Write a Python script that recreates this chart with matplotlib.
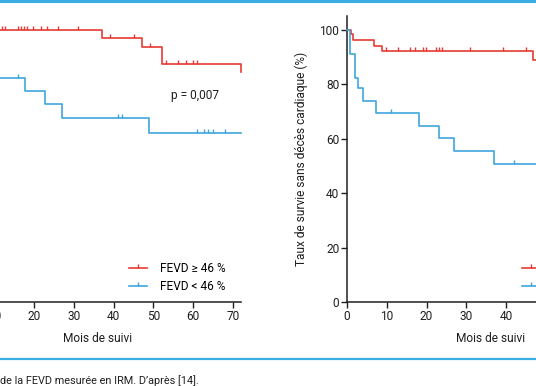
import numpy as np
import matplotlib
matplotlib.use("Agg")
import matplotlib.pyplot as plt
from matplotlib.lines import Line2D
from matplotlib.markers import TICKUP

plt.rcParams['font.family'] = ['Roboto', 'DejaVu Sans']

# ---------------- data ----------------
# Left panel (Kaplan-Meier, %)
left_hi_t = [0, 37.1, 47.1, 52.2, 71.9]
left_hi_s = [100, 97.1, 93.8, 87.5, 84.5]
left_hi_cens = [11.9, 12.7, 16.1, 16.7, 17.5, 18.2, 19.8, 21.7, 23.2, 26.1, 31.0,
                39.1, 45.1, 49.1, 53.2, 56.2, 58.2, 60.0, 61.0]
left_lo_t = [0, 8, 17.7, 22.8, 27.1, 48.9, 72]
left_lo_s = [100, 82.4, 77.6, 72.8, 67.6, 62.1, 62.1]
left_lo_cens = [15.9, 41.2, 42.0, 61.0, 62.7, 63.8, 64.9, 68.0]

# Right panel
right_hi_t = [0, 1.0, 1.5, 6.8, 8.8, 46.8, 72]
right_hi_s = [100, 98.5, 96.2, 94.3, 92.1, 89.0, 89.0]
right_hi_cens = [9.7, 12.9, 15.9, 17.0, 19.0, 19.9, 22.4, 23.1, 23.9, 30.9, 39.2, 45.1]
right_lo_t = [0, 0.8, 2.1, 2.85, 3.9, 7.2, 18, 23, 27, 36.9, 72]
right_lo_s = [100, 91.1, 82.5, 78.6, 73.9, 69.4, 64.7, 60.4, 55.5, 50.7, 50.7]
right_lo_cens = [11.0, 41.9]

labels = ["FEVD \u2265 46 %", "FEVD < 46 %"]
xticks = [0, 10, 20, 30, 40, 50, 60, 70]
yticks = [0, 20, 40, 60, 80, 100]
p_text = "p = 0,007"
xlabel = "Mois de suivi"
ylabel = "Taux de survie sans d\u00e9c\u00e8s cardiaque (%)"
caption = "de la FEVD mesur\u00e9e en IRM. D\u2019apr\u00e8s [14]."

RED = "#e63b35"
BLUE = "#3fa7dc"
LINEBLUE = "#3aaee2"
INK = "#1f1f1f"
FS = 8.6

W, H = 536, 386
fig = plt.figure(figsize=(W / 100, H / 100), dpi=100)


def surv_at(t, times, surv):
    times = np.asarray(times)
    idx = np.searchsorted(times, t, side='right') - 1
    return np.asarray(surv)[idx]


def km(ax, t, s, cens, color):
    ax.step(t, s, where='post', color=color, lw=1.2, clip_on=False, zorder=3)
    ax.plot(cens, [surv_at(c, t, s) for c in cens], ls='none', marker=TICKUP,
            ms=3, mew=1.0, color=color, clip_on=False, zorder=3)


def setup(ax):
    ax.set_xlim(0, 72)
    ax.set_ylim(0, 105)
    for sp in ['top', 'right']:
        ax.spines[sp].set_visible(False)
    for sp in ['left', 'bottom']:
        ax.spines[sp].set_linewidth(1.1)
        ax.spines[sp].set_color(INK)
    ax.set_xticks(xticks)
    ax.set_yticks(yticks)
    ax.tick_params(direction='out', length=4, width=1, labelsize=FS,
                   colors=INK, pad=1.5)
    ax.set_xlabel(xlabel, fontsize=FS, color=INK, labelpad=7)
    ax.set_ylabel(ylabel, fontsize=FS, color=INK, labelpad=8)
    handles = [Line2D([], [], color=RED, lw=1.2, marker=TICKUP, ms=3, mew=1.0),
               Line2D([], [], color=BLUE, lw=1.2, marker=TICKUP, ms=3, mew=1.0)]
    ax.legend(handles, labels, loc='lower left', bbox_to_anchor=(0.61, 0.03),
              frameon=False, fontsize=FS, handlelength=1.5, handletextpad=1.1,
              labelspacing=0.45, borderpad=0, borderaxespad=0)


px = 3.98
ax_w = 72 * px / W
ax_b = (H - 302) / H
ax_h = 105 * 2.72 / H

ax1 = fig.add_axes([-45.6 / W, ax_b, ax_w, ax_h])
ax2 = fig.add_axes([347 / W, ax_b, ax_w, ax_h])
for ax in (ax1, ax2):
    ax.patch.set_alpha(0)

km(ax1, left_hi_t, left_hi_s, left_hi_cens, RED)
km(ax1, left_lo_t, left_lo_s, left_lo_cens, BLUE)
km(ax2, right_hi_t, right_hi_s, right_hi_cens, RED)
km(ax2, right_lo_t, right_lo_s, right_lo_cens, BLUE)
setup(ax1)
setup(ax2)
ax1.text(54.4, 76, p_text, fontsize=FS, color=INK, va='center', ha='left')

# decorative rules and caption
fig.add_artist(Line2D([0, 1], [1 - 1 / H, 1 - 1 / H], color=LINEBLUE, lw=2.2,
                      transform=fig.transFigure))
fig.add_artist(Line2D([0, 1], [(H - 359) / H, (H - 359) / H], color=LINEBLUE, lw=1.6,
                      transform=fig.transFigure))
fig.text(0, (H - 381) / H, caption, fontsize=7.8, color=INK, ha='left', va='center')

fig.savefig("out.png", dpi=100)
